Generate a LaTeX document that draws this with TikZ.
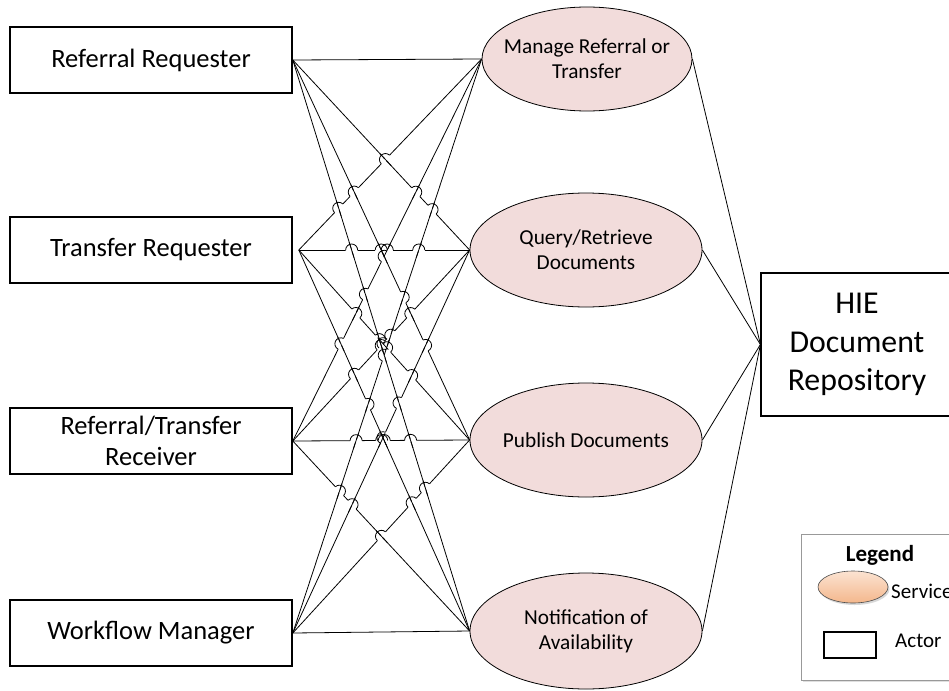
\documentclass[tikz,border=0pt]{standalone}
\usepackage{fontspec}
\setmainfont{Carlito}
\usetikzlibrary{calc,shapes.geometric,shadows}
\definecolor{svc}{HTML}{F2DCDB}
\definecolor{peachtop}{HTML}{FBE3D2}
\definecolor{peachbot}{HTML}{F4B78C}
\newcommand\hoplist{2/1/1/2, 2/1/1/3, 2/1/1/4, 2/2/1/3, 2/2/1/4, 2/3/1/4,
  1/2/3/1, 3/1/1/3, 3/1/1/4, 3/2/1/3, 3/2/1/4, 3/3/1/4,
  1/2/4/1, 1/3/4/1, 4/1/1/4, 1/3/4/2, 4/2/1/4, 4/3/1/4,
  2/2/3/1, 2/3/3/1, 3/1/2/4, 3/2/2/3, 3/2/2/4, 3/3/2/4,
  2/2/4/1, 2/3/4/1, 2/4/4/1, 2/3/4/2, 4/2/2/4, 4/3/2/4,
  3/2/4/1, 3/3/4/1, 3/4/4/1, 3/3/4/2, 3/4/4/2, 4/3/3/4}
\begin{document}
\begin{tikzpicture}[x=1pt,y=-1pt,
  actor/.style={draw, line width=1.6pt, minimum width=282pt, minimum height=66pt,
    inner sep=0pt, align=center, font=\fontsize{26.5}{31}\selectfont},
  service/.style={ellipse, draw, line width=0.8pt, fill=svc, inner sep=0pt},
  svctext/.style={align=center, inner sep=0pt, font=\fontsize{21.3}{25}\selectfont},
  conn/.style={line width=0.8pt},
  erase/.style={white, line width=2.6pt},
  legtext/.style={inner sep=0pt, font=\fontsize{21}{25}\selectfont}]
\useasboundingbox (0,0) rectangle (949,690);

% actors
\node[actor] (A1) at (151,60) {Referral Requester};
\node[actor] (A2) at (151,250) {Transfer Requester};
\node[actor] (A3) at (151,441) {Referral/Transfer\\Receiver};
\node[actor] (A4) at (151,633) {Workflow Manager};

% services
\node[service, minimum width=210pt, minimum height=104pt] (S1) at (587,59) {};
\node[svctext] (S1t) at (S1) {Manage Referral or\\Transfer};
\node[service, minimum width=232pt, minimum height=114pt] (S2) at (586,250) {};
\node[svctext] (S2t) at (S2) {Query/Retrieve\\Documents};
\node[service, minimum width=232pt, minimum height=114pt] (S3) at (586,440) {};
\node[svctext] (S3t) at (S3) {Publish Documents};
\node[service, minimum width=232pt, minimum height=116pt] (S4) at (586,631) {};
\node[svctext] (S4t) at (S4) {Notification of\\Availability};

% repository
\node[draw, line width=1.2pt, minimum width=192pt, minimum height=143pt, inner sep=0pt,
  align=center, font=\fontsize{31.8}{38.5}\selectfont] (H) at (857,344.5)
  {HIE\\Document\\Repository};

% connection points
\coordinate (a1) at (A1.east);
\coordinate (a2) at ([xshift=6pt]A2.east);
\coordinate (a3) at (A3.east);
\coordinate (a4) at (A4.east);
\coordinate (s1) at (S1.west);
\coordinate (s2) at (S2.west);
\coordinate (s3) at (S3.west);
\coordinate (s4) at (S4.west);

% all actor-service connectors
\foreach \i in {1,...,4}{\foreach \j in {1,...,4}{\draw[conn] (a\i) -- (s\j);}}

% line hops: erase
\foreach \ha/\hb/\ba/\bb in \hoplist {
  \coordinate (HA) at (a\ha); \coordinate (HB) at (s\hb);
  \coordinate (BA) at (a\ba); \coordinate (BB) at (s\bb);
  \coordinate (P) at (intersection of HA--HB and BA--BB);
  \draw[erase] ($(P)!6pt!(HA)$) -- ($(P)!6pt!(HB)$);
}
% redraw crossed lines locally
\foreach \ha/\hb/\ba/\bb in \hoplist {
  \coordinate (HA) at (a\ha); \coordinate (HB) at (s\hb);
  \coordinate (BA) at (a\ba); \coordinate (BB) at (s\bb);
  \coordinate (P) at (intersection of HA--HB and BA--BB);
  \draw[conn] ($(P)!8pt!(BA)$) -- ($(P)!8pt!(BB)$);
}
% hop arcs
\foreach \ha/\hb/\ba/\bb in \hoplist {
  \coordinate (HA) at (a\ha); \coordinate (HB) at (s\hb);
  \coordinate (BA) at (a\ba); \coordinate (BB) at (s\bb);
  \coordinate (P) at (intersection of HA--HB and BA--BB);
  \draw[conn] let \p1=($(HB)-(HA)$), \n1={atan2(\y1,\x1)}, \n2={\n1+180} in
    ($(P)!6pt!(HA)$) arc[start angle=\n2, end angle=\n1, radius=6pt];
}

% services to repository
\draw[conn] (S1.east) -- (H.west);
\draw[conn] (S2.east) -- (H.west);
\draw[conn] (S3.east) -- (H.west);
\draw[conn] (S4.east) -- (H.west);

% legend
\node[draw=gray!80, line width=0.8pt, fill=white, minimum width=170pt, minimum height=146pt,
  drop shadow={opacity=0.25, shadow xshift=1.5pt, shadow yshift=-1.5pt}] (L) at (886,607) {};
\node[legtext, anchor=base, font=\bfseries\fontsize{23}{27}\selectfont] (Lt) at (880,561) {Legend};
\node[ellipse, draw=black!70, line width=0.6pt, top color=peachtop, bottom color=peachbot,
  minimum width=70pt, minimum height=32pt,
  drop shadow={opacity=0.3, shadow xshift=1.5pt, shadow yshift=-2pt}] (Le) at (853,587) {};
\node[legtext, anchor=base west] (Ls) at (891,598) {Service};
\node[draw, line width=1.2pt, minimum width=52pt, minimum height=26pt, inner sep=0pt] (Lr) at (850,645) {};
\node[legtext, anchor=base west] (La) at (895,647) {Actor};
\end{tikzpicture}
\end{document}
